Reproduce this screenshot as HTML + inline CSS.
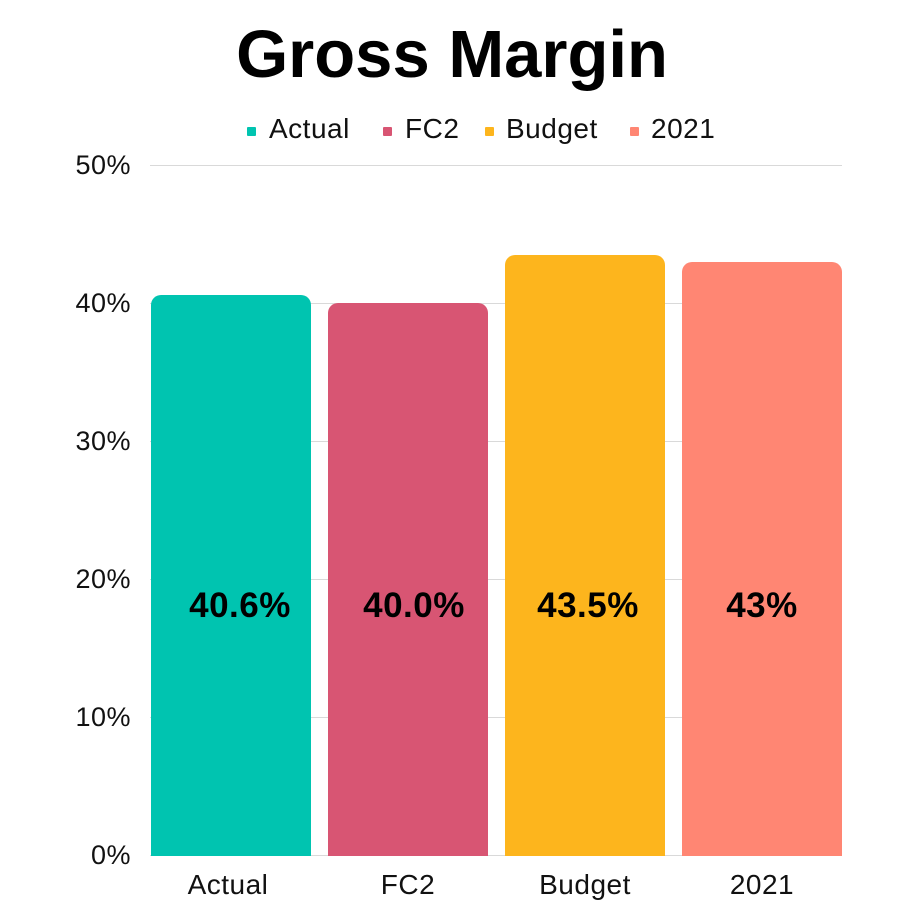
<!DOCTYPE html>
<html><head><meta charset="utf-8"><style>
html,body{margin:0;padding:0;background:#fff;}
body{width:920px;height:920px;position:relative;overflow:hidden;font-family:"Liberation Sans",sans-serif;color:#111;}
.t{position:absolute;white-space:nowrap;}
.g{position:absolute;left:150px;width:692px;height:1px;background:#d9d9d9;}
.bar{position:absolute;width:160px;border-radius:10px 10px 0 0;}
.sq{position:absolute;width:9px;height:9px;border-radius:1px;}
.yl{position:absolute;left:0;width:131px;text-align:right;font-size:27px;letter-spacing:0.5px;}
.xl{position:absolute;top:869px;width:160px;text-align:center;font-size:28px;letter-spacing:0.5px;}
.v{position:absolute;top:586px;width:160px;text-align:center;font-size:35px;font-weight:bold;color:#000;letter-spacing:0.5px;}
.lg{font-size:28px;top:113px;letter-spacing:0.5px;}
</style></head><body>
<div class="t" style="left:0;width:904px;text-align:center;top:16px;font-size:67px;font-weight:bold;color:#000;">Gross Margin</div>

<div class="sq" style="left:247px;top:127px;background:#00c4b0"></div>
<div class="t lg" style="left:269px;">Actual</div>
<div class="sq" style="left:383px;top:127px;background:#d85573"></div>
<div class="t lg" style="left:405px;">FC2</div>
<div class="sq" style="left:485px;top:127px;background:#fdb51d"></div>
<div class="t lg" style="left:506px;">Budget</div>
<div class="sq" style="left:630px;top:127px;background:#ff8673"></div>
<div class="t lg" style="left:651px;">2021</div>

<div class="g" style="top:165px"></div>
<div class="g" style="top:303px"></div>
<div class="g" style="top:441px"></div>
<div class="g" style="top:579px"></div>
<div class="g" style="top:717px"></div>
<div class="g" style="top:855px"></div>

<div class="yl" style="top:150px">50%</div>
<div class="yl" style="top:288px">40%</div>
<div class="yl" style="top:426px">30%</div>
<div class="yl" style="top:564px">20%</div>
<div class="yl" style="top:702px">10%</div>
<div class="yl" style="top:840px">0%</div>

<div class="bar" style="left:151px;top:295px;height:561px;background:#00c4b0"></div>
<div class="bar" style="left:328px;top:303px;height:553px;background:#d85573"></div>
<div class="bar" style="left:505px;top:255px;height:601px;background:#fdb51d"></div>
<div class="bar" style="left:682px;top:262px;height:594px;background:#ff8673"></div>

<div class="v" style="left:160px">40.6%</div>
<div class="v" style="left:334px">40.0%</div>
<div class="v" style="left:508px">43.5%</div>
<div class="v" style="left:682px">43%</div>

<div class="xl" style="left:148px">Actual</div>
<div class="xl" style="left:328px">FC2</div>
<div class="xl" style="left:505px">Budget</div>
<div class="xl" style="left:682px">2021</div>
</body></html>
